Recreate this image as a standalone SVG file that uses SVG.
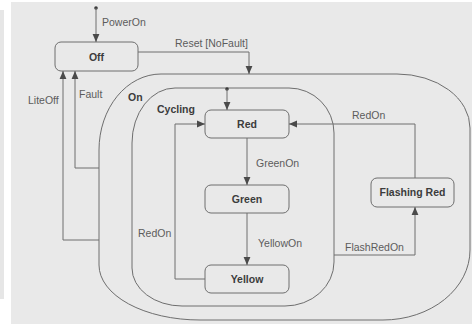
<svg xmlns="http://www.w3.org/2000/svg" width="472" height="324" viewBox="0 0 472 324">
  <style>
    .line { fill: none; stroke: #6e6e6e; stroke-width: 1; }
    .state { fill: none; stroke: #6e6e6e; stroke-width: 1; }
    .name { font-family: "Liberation Sans", Arial, sans-serif; font-size: 10.5px; font-weight: bold; fill: #3c3c3c; }
    .label { font-family: "Liberation Sans", Arial, sans-serif; font-size: 10.5px; fill: #5c5c5c; }
  </style>
  <defs>
    <marker id="arrow" viewBox="0 0 8 8" refX="8" refY="4" markerWidth="8" markerHeight="8" markerUnits="userSpaceOnUse" orient="auto">
      <path d="M0,0.6 L8,4 L0,7.4 Z" fill="#4a4a4a"/>
    </marker>
  </defs>

  <!-- page background -->
  <rect x="0" y="0" width="472" height="324" fill="#ffffff"/>
  <rect x="0" y="10" width="4" height="289" fill="#e6e6e6"/>
  <rect x="11" y="2" width="461" height="322" fill="#e9e9e9"/>

  <!-- composite states -->
  <g id="on">
    <path class="state" d="M99,150 A62,76 0 0 1 161,74 L397,74 A73,54 0 0 1 470,128 L470,250 A87,70 0 0 1 383,320 L200,320 A101,55 0 0 1 99,265 Z"/>
    <text class="name" x="128" y="101">On</text>
  </g>
  <g id="cycling">
    <path class="state" d="M132,143 A43,55 0 0 1 175,88 L289,88 A45,45 0 0 1 334,133 L334,262 A49,44 0 0 1 285,306 L182,306 A50,38 0 0 1 132,268 Z"/>
    <text class="name" x="157" y="113">Cycling</text>
  </g>

  <!-- simple states -->
  <g id="off">
    <rect class="state" x="55" y="42" width="83" height="29" rx="6"/>
    <text class="name" x="96.5" y="61" text-anchor="middle">Off</text>
  </g>
  <g id="red">
    <rect class="state" x="205" y="110" width="84" height="28" rx="6"/>
    <text class="name" x="247" y="128" text-anchor="middle">Red</text>
  </g>
  <g id="green">
    <rect class="state" x="205" y="185" width="84" height="28" rx="6"/>
    <text class="name" x="247" y="203" text-anchor="middle">Green</text>
  </g>
  <g id="yellow">
    <rect class="state" x="205" y="265" width="84" height="28" rx="6"/>
    <text class="name" x="247" y="283" text-anchor="middle">Yellow</text>
  </g>
  <g id="flashing-red">
    <rect class="state" x="371" y="178" width="83" height="29" rx="6"/>
    <text class="name" x="412.5" y="196" text-anchor="middle">Flashing Red</text>
  </g>

  <!-- transitions -->
  <g id="connectors">
    <!-- initial pseudostates -->
    <circle cx="96" cy="8" r="1.8" fill="#3a3a3a"/>
    <path class="line" d="M96,8 L96,42" marker-end="url(#arrow)"/>
    <circle cx="227" cy="89" r="1.8" fill="#3a3a3a"/>
    <path class="line" d="M227,89 L227,110" marker-end="url(#arrow)"/>

    <!-- Off -> On -->
    <path class="line" d="M138,52 L249,52 L249,74" marker-end="url(#arrow)"/>
    <!-- On -> Off -->
    <path class="line" d="M99,168 L75,168 L75,71" marker-end="url(#arrow)"/>
    <path class="line" d="M99,240 L63,240 L63,71" marker-end="url(#arrow)"/>

    <!-- cycle -->
    <path class="line" d="M247,138 L247,185" marker-end="url(#arrow)"/>
    <path class="line" d="M247,213 L247,265" marker-end="url(#arrow)"/>
    <path class="line" d="M205,279 L175,279 L175,124 L205,124" marker-end="url(#arrow)"/>

    <!-- flashing -->
    <path class="line" d="M334,255 L415,255 L415,207" marker-end="url(#arrow)"/>
    <path class="line" d="M415,178 L415,124 L289,124" marker-end="url(#arrow)"/>

    <!-- labels -->
    <text class="label" x="102" y="26">PowerOn</text>
    <text class="label" x="175" y="47">Reset [NoFault]</text>
    <text class="label" x="79" y="98">Fault</text>
    <text class="label" x="28" y="104">LiteOff</text>
    <text class="label" x="256" y="167">GreenOn</text>
    <text class="label" x="258" y="247">YellowOn</text>
    <text class="label" x="138" y="237">RedOn</text>
    <text class="label" x="352" y="119">RedOn</text>
    <text class="label" x="345" y="251">FlashRedOn</text>
  </g>
</svg>
